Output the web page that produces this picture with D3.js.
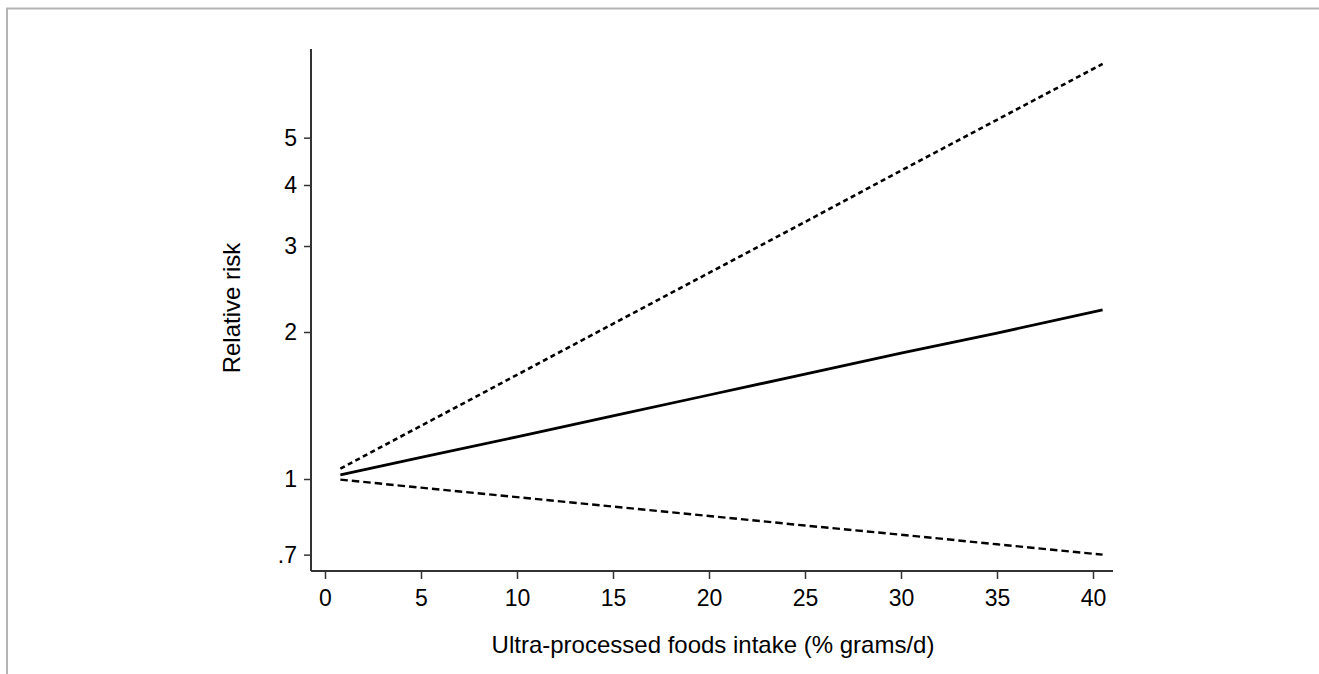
<!DOCTYPE html>
<html>
<head>
<meta charset="utf-8">
<script src="https://cdn.jsdelivr.net/npm/d3@7"></script>
<style>
  html, body { margin: 0; padding: 0; background: #fff; }
  svg { display: block; font-family: "Liberation Sans", Arial, sans-serif; }
</style>
</head>
<body>
<svg id="chart" width="1319" height="674"></svg>
<script>
// Intake (% grams/day) at which the fitted curves are evaluated
const intake = [0.8, 5, 10, 15, 20, 25, 30, 35, 40.5];
// Relative risk estimate and 95% confidence bounds
const rrEstimate = [1.02, 1.107, 1.22, 1.347, 1.486, 1.64, 1.81, 1.99, 2.22];
const rrUpper    = [1.05, 1.285, 1.634, 2.079, 2.643, 3.36, 4.28, 5.44, 7.08];
const rrLower    = [0.997, 0.96, 0.918, 0.878, 0.84, 0.803, 0.769, 0.735, 0.70];
// Axis ticks
const xTicks = [0, 5, 10, 15, 20, 25, 30, 35, 40];
const yTicks = [0.7, 1, 2, 3, 4, 5];
const yTickLabels = [".7", "1", "2", "3", "4", "5"];

const svg = d3.select("#chart");

// outer frame (top and left edges)
svg.append("path")
  .attr("d", "M7,674 L7,8.5 L1319,8.5")
  .attr("fill", "none")
  .attr("stroke", "#b4b4b4")
  .attr("stroke-width", 2);

const x = d3.scaleLinear().domain([0, 40]).range([325, 1093]);
const y = d3.scaleLog().domain([1, 2]).range([479, 332]);

const axisLeftX = 311, axisBottomY = 571;
const xEnd = x.invert(1113), yTop = y.invert(49);

const axisColor = "#333";
const tickFont = 23;

// y axis
const gy = svg.append("g").attr("transform", `translate(${axisLeftX},0)`)
  .call(d3.axisLeft(y).tickValues(yTicks)
    .tickFormat((d, i) => yTickLabels[i]).tickSizeOuter(0).tickSize(7).tickPadding(7));
gy.attr("font-size", tickFont).attr("font-family", "Liberation Sans, Arial, sans-serif");
gy.select(".domain").attr("d", `M0,${y(yTop)}V${axisBottomY}`)
  .attr("stroke", axisColor).attr("stroke-width", 2);
gy.selectAll(".tick line").attr("stroke", axisColor).attr("stroke-width", 1.5);
gy.selectAll(".tick text").attr("fill", "#000");

// x axis
const gx = svg.append("g").attr("transform", `translate(0,${axisBottomY})`)
  .call(d3.axisBottom(x).tickValues(xTicks).tickSizeOuter(0).tickSize(8).tickPadding(11));
gx.attr("font-size", tickFont).attr("font-family", "Liberation Sans, Arial, sans-serif");
gx.select(".domain").attr("d", `M${axisLeftX},0H${x(xEnd)}`)
  .attr("stroke", axisColor).attr("stroke-width", 2);
gx.selectAll(".tick line").attr("stroke", axisColor).attr("stroke-width", 1.5);
gx.selectAll(".tick text").attr("fill", "#000");

// axis titles
svg.append("text")
  .attr("x", 713).attr("y", 653)
  .attr("text-anchor", "middle").attr("font-size", 24).attr("fill", "#000")
  .text("Ultra-processed foods intake (% grams/d)");
svg.append("text")
  .attr("transform", "translate(240,308) rotate(-90)")
  .attr("text-anchor", "middle").attr("font-size", 24).attr("fill", "#000")
  .text("Relative risk");

// curves
const line = d3.line().x(d => x(d[0])).y(d => y(d[1]));
const series = [
  { values: rrUpper, dash: "5,3.5", width: 2.6 },
  { values: rrLower, dash: "7.5,4", width: 2.4 },
  { values: rrEstimate, dash: null, width: 2.8 }
];
series.forEach(s => {
  svg.append("path")
    .datum(intake.map((v, i) => [v, s.values[i]]))
    .attr("d", line)
    .attr("fill", "none")
    .attr("stroke", "#000")
    .attr("stroke-width", s.width)
    .attr("stroke-dasharray", s.dash);
});
</script>
</body>
</html>
